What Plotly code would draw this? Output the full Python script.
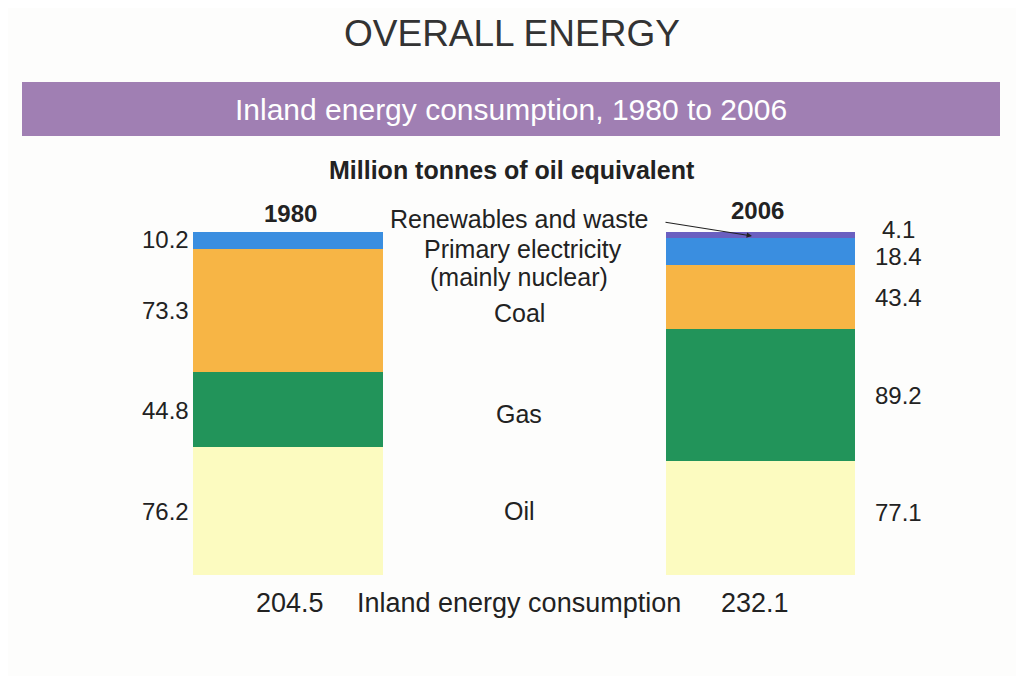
import plotly.graph_objects as go

# data (million tonnes of oil equivalent)
years = ["1980", "2006"]
sources = ["Oil", "Gas", "Coal", "Primary electricity", "Renewables and waste"]
oil = [76.2, 77.1]
gas = [44.8, 89.2]
coal = [73.3, 43.4]
primary = [10.2, 18.4]
renewables = [0.0, 4.1]
totals = [204.5, 232.1]

colors = ["#fcfbc0", "#22945a", "#f7b545", "#3a8ee0", "#6a5fc0"]

W, H = 1024, 676
OFF = 8  # page body margin
FONT = "Liberation Sans, Arial, sans-serif"

# pixel geometry of the plot (page pixels)
BAR_C = [288 - OFF, 760.5 - OFF]
UNIT_X = BAR_C[1] - BAR_C[0]
Y0, Y100 = 575 - OFF, 232 - OFF
UNIT_Y = (Y0 - Y100) / 100.0


def px(x):
    return (x - OFF) / W


def py(y):
    return 1 - (y - OFF) / H


fig = go.Figure()

series = [oil, gas, coal, primary, renewables]
for name, vals, col in zip(sources, series, colors):
    fig.add_trace(go.Bar(
        x=[0, 1], y=vals, name=name,
        marker=dict(color=col, line=dict(width=0)),
        width=0.402, hoverinfo="name+y",
    ))

fig.update_layout(
    barmode="stack",
    barnorm="percent",
    width=W, height=H,
    margin=dict(l=0, r=0, t=0, b=0),
    paper_bgcolor="#fdfdfc",
    plot_bgcolor="rgba(0,0,0,0)",
    showlegend=False,
    xaxis=dict(range=[-BAR_C[0] / UNIT_X, (W - BAR_C[0]) / UNIT_X],
               visible=False, fixedrange=True),
    yaxis=dict(range=[-(H - Y0) / UNIT_Y, 100 + Y100 / UNIT_Y],
               visible=False, fixedrange=True),
    font=dict(family=FONT, color="#222"),
)

# purple band
fig.add_shape(type="rect", xref="paper", yref="paper",
              x0=px(22), x1=px(1000), y0=py(136), y1=py(82),
              fillcolor="#a07fb3", line=dict(width=0), layer="below")

ann = []


def text(x, y, s, size=26, color="#222"):
    ann.append(dict(x=px(x), y=py(y), xref="paper", yref="paper", text=s,
                    showarrow=False, xanchor="center", yanchor="middle",
                    font=dict(size=size, family=FONT, color=color)))


text(512, 33, "OVERALL ENERGY", size=37, color="#333")
text(511, 109, "Inland energy consumption, 1980 to 2006", size=30,
     color="#ffffff")
text(512, 170, "<b>Million tonnes of oil equivalent</b>", size=25)
text(290, 213, "<b>1980</b>", size=24)
text(757, 211, "<b>2006</b>", size=24)

# value labels placed at segment centres
label_x = [165, 898]
shifts = [[0, -1, 0, 1, 0], [6, 0, 0, -5, 6]]
for j in range(2):
    tot = sum(s[j] for s in series)
    cum = 0.0
    for i, s in enumerate(series):
        v = s[j]
        if v > 0:
            mid = (cum + v / 2) / tot * 100
            ann.append(dict(x=px(label_x[j]), y=mid, xref="paper", yref="y",
                            text=f"{v:.1f}", showarrow=False,
                            xanchor="center", yanchor="middle",
                            yshift=shifts[j][i],
                            font=dict(size=24, color="#222")))
        cum += v

# category labels in the middle
text(519, 219, "Renewables and waste", size=25)
text(523, 249, "Primary electricity", size=25)
text(519, 277, "(mainly nuclear)", size=25)
text(519, 313, "Coal", size=25)
text(519, 414, "Gas", size=25)
text(519, 511, "Oil", size=25)

# arrow to the renewables slice
ann.append(dict(x=px(752), y=py(236), xref="paper", yref="paper",
                ax=664 - 752, ay=222 - 236,
                showarrow=True, arrowhead=2, arrowsize=0.9, arrowwidth=1.2,
                arrowcolor="#222", text=""))

# totals
text(290, 603, f"{totals[0]}", size=27)
text(519, 603, "Inland energy consumption", size=27)
text(755, 603, f"{totals[1]}", size=27)

fig.update_layout(annotations=ann)

fig.write_html("out.html")
